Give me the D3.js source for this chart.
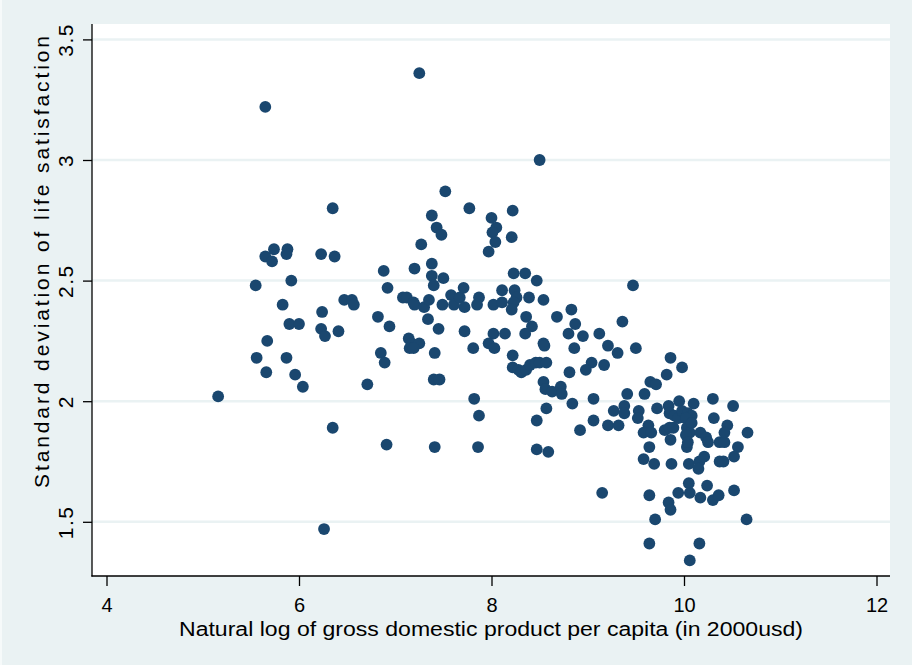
<!DOCTYPE html>
<html>
<head>
<meta charset="utf-8">
<script src="https://cdn.jsdelivr.net/npm/d3@7"></script>
<style>
  html, body { margin: 0; padding: 0; background: #EAF2F3; }
  svg { display: block; }
  text { font-family: "Liberation Sans", Arial, Helvetica, sans-serif; fill: #000; }
</style>
</head>
<body>
<svg id="chart" width="912" height="665"></svg>
<script>
// ---- Data ----
// Natural log of GDP per capita (x)
const lnGdp = [
  5.16,5.55,5.56,5.65,5.65,5.72,5.74,5.66,5.67,5.83,
  5.88,5.87,5.92,5.87,5.90,6.00,5.96,6.04,6.23,6.37,
  6.35,6.24,6.23,6.27,6.41,6.35,6.26,6.47,6.55,6.57,
  6.71,6.82,6.88,6.92,6.94,6.85,6.89,6.91,7.08,7.12,
  7.19,7.20,7.30,7.35,7.20,7.27,7.38,7.43,7.48,7.38,
  7.38,7.40,7.50,7.34,7.45,7.14,7.17,7.25,7.15,7.19,
  7.41,7.40,7.46,7.41,7.52,7.25,7.49,7.58,7.61,7.67,
  7.72,7.71,7.72,7.77,7.81,7.87,7.85,7.82,7.87,7.86,
  8.00,8.05,8.01,8.04,7.97,8.02,8.11,8.11,8.02,7.97,
  8.03,8.14,8.22,8.21,8.23,8.35,8.47,8.24,8.26,8.23,
  8.21,8.22,8.22,8.28,8.31,8.36,8.40,8.46,8.50,8.57,
  8.39,8.54,8.50,8.36,8.42,8.35,8.54,8.55,8.68,8.54,
  8.56,8.63,8.72,8.73,8.57,8.47,8.47,8.59,
  8.83,8.87,8.80,8.95,9.12,8.86,9.21,9.31,9.50,9.36,
  9.47,9.04,8.98,9.17,8.81,
  8.84,9.06,9.06,8.92,9.21,9.32,9.27,9.38,9.38,9.41,
  9.59,9.53,9.52,9.65,9.71,9.72,9.15,9.63,9.58,9.66,
  9.64,9.58,9.69,9.64,9.70,9.64,9.86,9.98,9.82,9.84,
  9.95,10.10,10.30,10.51,10.31,9.85,9.90,9.94,9.98,10.04,
  10.08,10.02,9.80,9.85,9.89,10.03,10.06,10.08,10.02,10.17,
  10.23,10.25,9.86,10.03,10.04,10.37,10.42,10.45,10.42,10.66,
  10.56,10.52,9.87,10.05,10.16,10.21,10.15,10.37,10.41,10.05,
  10.24,9.94,10.06,10.17,10.30,10.36,10.52,9.84,9.86,10.65,
  10.16,10.06
];
// Standard deviation of life satisfaction (y)
const sdLifeSat = [
  2.02,2.48,2.18,3.22,2.60,2.58,2.63,2.12,2.25,2.40,
  2.63,2.61,2.50,2.18,2.32,2.32,2.11,2.06,2.61,2.60,
  2.80,2.37,2.30,2.27,2.29,1.89,1.47,2.42,2.42,2.40,
  2.07,2.35,2.54,2.47,2.31,2.20,2.16,1.82,2.43,2.43,
  2.41,2.40,2.39,2.42,2.55,2.65,2.77,2.72,2.69,2.57,
  2.52,2.48,2.51,2.34,2.30,2.26,2.24,2.24,2.22,2.22,
  2.20,2.09,2.09,1.81,2.87,3.36,2.40,2.44,2.40,2.43,
  2.39,2.47,2.29,2.80,2.22,2.43,2.40,2.01,1.94,1.81,
  2.76,2.72,2.70,2.66,2.62,2.40,2.41,2.46,2.28,2.24,
  2.22,2.28,2.79,2.68,2.53,2.53,2.50,2.46,2.43,2.41,
  2.38,2.19,2.14,2.13,2.12,2.13,2.15,2.16,2.16,2.16,
  2.43,2.42,3.00,2.35,2.31,2.28,2.24,2.23,2.35,2.08,
  2.05,2.04,2.06,2.03,1.97,1.92,1.80,1.79,
  2.38,2.32,2.28,2.27,2.28,2.22,2.23,2.20,2.22,2.33,
  2.48,2.16,2.13,2.15,2.12,
  1.99,2.01,1.92,1.88,1.90,1.90,1.96,1.98,1.95,2.03,
  2.03,1.96,1.93,2.08,2.07,1.97,1.62,1.90,1.87,1.87,
  1.81,1.76,1.74,1.61,1.51,1.41,2.18,2.14,2.11,1.98,
  2.00,1.99,2.01,1.98,1.93,1.95,1.94,1.93,1.96,1.95,
  1.94,1.93,1.88,1.89,1.89,1.89,1.87,1.91,1.86,1.87,
  1.85,1.83,1.84,1.81,1.83,1.83,1.83,1.90,1.87,1.87,
  1.81,1.77,1.74,1.74,1.75,1.77,1.72,1.75,1.75,1.66,
  1.65,1.62,1.62,1.60,1.59,1.61,1.63,1.58,1.55,1.51,
  1.41,1.34
];
const xTicks = [4, 6, 8, 10, 12];
const yTicks = [1.5, 2, 2.5, 3, 3.5];
const yTickLabels = ["1.5", "2", "2.5", "3", "3.5"];
const xTitle = "Natural log of gross domestic product per capita (in 2000usd)";
const yTitle = "Standard deviation of life satisfaction";

// ---- Layout ----
const W = 912, H = 665;
const plot = { left: 92, top: 24, right: 890, bottom: 576 };
const bg = "#EAF2F3", dotColor = "#1A476F";

const svg = d3.select("#chart");
svg.append("rect").attr("x", 0).attr("y", 0).attr("width", W).attr("height", H).attr("fill", bg);
svg.append("rect").attr("x", 0).attr("y", 0).attr("width", 2).attr("height", H).attr("fill", "#F6FAFA");
svg.append("rect")
  .attr("x", plot.left).attr("y", plot.top)
  .attr("width", plot.right - plot.left).attr("height", plot.bottom - plot.top)
  .attr("fill", "#fff");

const x = d3.scaleLinear().domain([4, 12]).range([106.5, 876.5]);
const y = d3.scaleLinear().domain([1.5, 3.5]).range([521.8, 39.4]);

// gridlines
svg.append("g").selectAll("line").data(yTicks).join("line")
  .attr("x1", plot.left).attr("x2", plot.right)
  .attr("y1", d => y(d)).attr("y2", d => y(d))
  .attr("stroke", bg).attr("stroke-width", 2.5);

// points
const pts = lnGdp.map((v, i) => ({ x: v, y: sdLifeSat[i] }));
svg.append("g").selectAll("circle").data(pts).join("circle")
  .attr("cx", d => x(d.x)).attr("cy", d => y(d.y))
  .attr("r", 5.9).attr("fill", dotColor);

// y axis
const yAxis = svg.append("g").attr("transform", `translate(${plot.left},0)`)
  .call(d3.axisLeft(y).tickValues(yTicks).tickSize(9).tickSizeOuter(0)
    .tickFormat((d, i) => yTickLabels[i]));
yAxis.select(".domain").remove();
yAxis.selectAll(".tick line").attr("stroke", "#000").attr("stroke-width", 1.3);
yAxis.selectAll(".tick text")
  .attr("transform", "rotate(-90)")
  .attr("x", 0).attr("y", -19).attr("dy", 0)
  .attr("text-anchor", "middle")
  .style("font-size", "21px")
  .style("letter-spacing", "1.5px")
  .attr("fill", "#000");

// x axis
const xAxis = svg.append("g").attr("transform", `translate(0,${plot.bottom})`)
  .call(d3.axisBottom(x).tickValues(xTicks).tickSize(10).tickSizeOuter(0));
xAxis.select(".domain").remove();
xAxis.selectAll(".tick line").attr("stroke", "#000").attr("stroke-width", 1.3);
xAxis.selectAll(".tick text")
  .attr("y", 36).attr("dy", 0)
  .style("font-size", "20px")
  .attr("fill", "#000");

// axis lines
svg.append("line").attr("x1", plot.left).attr("x2", plot.left)
  .attr("y1", plot.top).attr("y2", plot.bottom + 0.6)
  .attr("stroke", "#000").attr("stroke-width", 1.3);
svg.append("line").attr("x1", plot.left - 0.6).attr("x2", plot.right)
  .attr("y1", plot.bottom).attr("y2", plot.bottom)
  .attr("stroke", "#000").attr("stroke-width", 1.3);

// titles
svg.append("text")
  .attr("x", 491).attr("y", 636)
  .attr("text-anchor", "middle")
  .attr("textLength", 624).attr("lengthAdjust", "spacingAndGlyphs")
  .style("font-size", "20px")
  .text(xTitle);

svg.append("text")
  .attr("transform", "translate(49,262) rotate(-90)")
  .attr("text-anchor", "middle")
  .attr("textLength", 452).attr("lengthAdjust", "spacing")
  .style("font-size", "21px")
  .text(yTitle);
</script>
</body>
</html>
